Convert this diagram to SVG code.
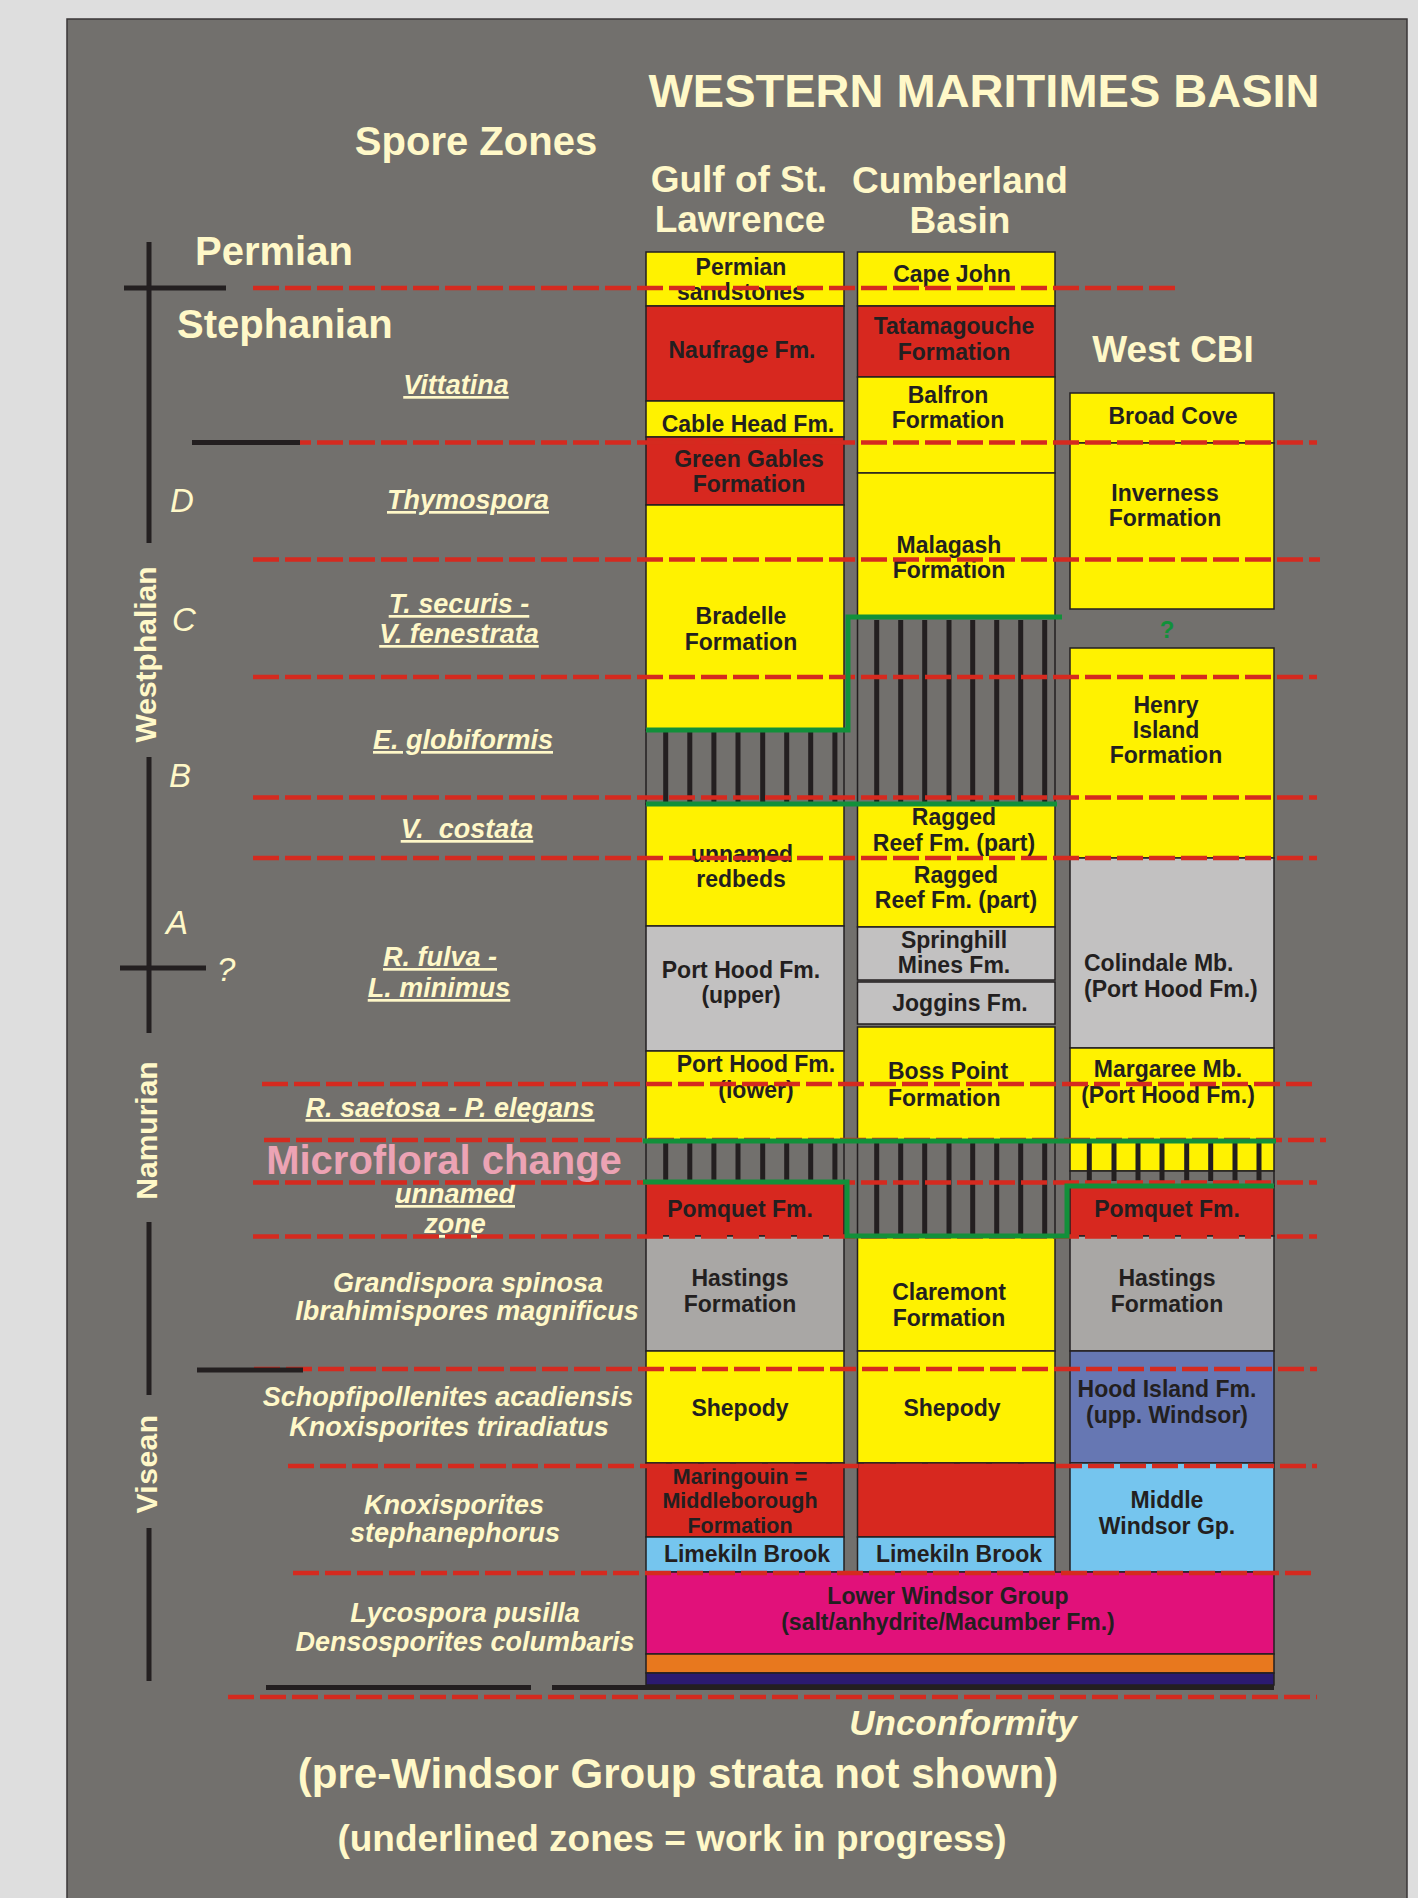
<svg xmlns="http://www.w3.org/2000/svg" width="1418" height="1898" viewBox="0 0 1418 1898">
<defs>
<style>
.bx{stroke:#231f20;stroke-width:1.5}
.y{fill:#fff200}.r{fill:#d7281f}.g1{fill:#c2c1c1}.g2{fill:#a9a7a5}.lb{fill:#75c5ee}.hi{fill:#6677b3}.mg{fill:#e1117a}.or{fill:#e8781e}.nv{fill:#2b1a70}.hb{fill:#72706d}
.bar{fill:#231f20}
.ft{font-family:"Liberation Sans",Arial,sans-serif;font-weight:bold;font-size:23px;fill:#231f20;text-anchor:middle}
.fts{font-family:"Liberation Sans",Arial,sans-serif;font-weight:bold;font-size:21.5px;fill:#231f20;text-anchor:middle}
.ftl{font-family:"Liberation Sans",Arial,sans-serif;font-weight:bold;font-size:23px;fill:#231f20;text-anchor:start}
.zn{font-family:"Liberation Sans",Arial,sans-serif;font-weight:bold;font-style:italic;font-size:27px;fill:#fff8c8;text-anchor:middle}
.u{text-decoration:underline}
.hd{font-family:"Liberation Sans",Arial,sans-serif;font-weight:bold;fill:#fff8c8;text-anchor:middle}
.hdl{font-family:"Liberation Sans",Arial,sans-serif;font-weight:bold;fill:#fff8c8}
.let{font-family:"Liberation Sans",Arial,sans-serif;font-style:italic;font-size:33px;fill:#fff8c8}
.dash{stroke:#d52a1f;stroke-width:4.5;stroke-dasharray:26 6;fill:none}
.grn{stroke:#12903a;stroke-width:5;fill:none}
.ax{stroke:#231f20;stroke-width:5;fill:none}
</style>
</defs>
<rect x="0" y="0" width="1418" height="1898" fill="#dedede"/>
<rect x="67" y="19" width="1340" height="1895" fill="#72706d" stroke="#3a3637" stroke-width="1.5"/>

<g id="headers">
<text class="hd" x="984" y="107" font-size="47">WESTERN MARITIMES BASIN</text>
<text class="hd" x="476" y="155" font-size="40">Spore Zones</text>
<text class="hd" x="739" y="192" font-size="37">Gulf of St.</text>
<text class="hd" x="740" y="232" font-size="37">Lawrence</text>
<text class="hd" x="960" y="193" font-size="37">Cumberland</text>
<text class="hd" x="960" y="233" font-size="37">Basin</text>
<text class="hd" x="1173" y="362" font-size="37">West CBI</text>
</g>

<g id="periods">
<text class="hdl" x="195" y="265" font-size="40">Permian</text>
<text class="hdl" x="177" y="338" font-size="40">Stephanian</text>
<text class="hd" font-size="30" transform="translate(156,654.5) rotate(-90)">Westphalian</text>
<text class="hd" font-size="30" transform="translate(157,1130.5) rotate(-90)">Namurian</text>
<text class="hd" font-size="30" letter-spacing="0.5" transform="translate(157,1464) rotate(-90)">Visean</text>
<text class="let" x="170" y="512">D</text>
<text class="let" x="172" y="631">C</text>
<text class="let" x="169" y="787">B</text>
<text class="let" x="166" y="934">A</text>
<text class="let" x="217" y="981">?</text>
</g>

<g id="spore-zones">
<text class="zn u" x="456" y="394">Vittatina</text>
<text class="zn u" x="468" y="509">Thymospora</text>
<text class="zn u" x="459" y="613">T. securis -</text>
<text class="zn u" x="459" y="643">V. fenestrata</text>
<text class="zn u" x="463" y="749">E. globiformis</text>
<text class="zn u" x="467" y="838" xml:space="preserve">V.  costata</text>
<text class="zn u" x="440" y="966">R. fulva -</text>
<text class="zn u" x="439" y="997">L. minimus</text>
<text class="zn u" x="450" y="1117">R. saetosa - P. elegans</text>
<text class="zn u" x="455" y="1203">unnamed</text>
<text class="zn u" x="455" y="1233">zone</text>
<text class="zn" x="468" y="1292">Grandispora spinosa</text>
<text class="zn" x="467" y="1320">Ibrahimispores magnificus</text>
<text class="zn" x="448" y="1406">Schopfipollenites acadiensis</text>
<text class="zn" x="449" y="1436">Knoxisporites triradiatus</text>
<text class="zn" x="454" y="1514">Knoxisporites</text>
<text class="zn" x="455" y="1542">stephanephorus</text>
<text class="zn" x="465" y="1622">Lycospora pusilla</text>
<text class="zn" x="465" y="1651">Densosporites columbaris</text>
</g>

<g id="gulf-column">
<g id="g-permian"><rect class="bx y" x="646" y="252" width="198" height="54"/><text class="ft" x="741" y="275">Permian</text><text class="ft" x="741" y="300">sandstones</text></g>
<g id="g-naufrage"><rect class="bx r" x="646" y="306" width="198" height="95"/><text class="ft" x="742" y="358">Naufrage Fm.</text></g>
<g id="g-cablehead"><rect class="bx y" x="646" y="401" width="198" height="36"/><text class="ft" x="748" y="432">Cable Head Fm.</text></g>
<g id="g-greengables"><rect class="bx r" x="646" y="437" width="198" height="68"/><text class="ft" x="749" y="467">Green Gables</text><text class="ft" x="749" y="492">Formation</text></g>
<g id="g-bradelle"><rect class="bx y" x="646" y="505" width="198" height="225"/><text class="ft" x="741" y="624">Bradelle</text><text class="ft" x="741" y="650">Formation</text></g>
<g id="g-hatch1"><rect class="bx hb" x="646" y="730" width="198" height="74"/>
<rect class="bar" x="663.2" y="732" width="5" height="70"/><rect class="bar" x="687.3" y="732" width="5" height="70"/><rect class="bar" x="711.4" y="732" width="5" height="70"/><rect class="bar" x="735.5" y="732" width="5" height="70"/><rect class="bar" x="760.2" y="732" width="5" height="70"/><rect class="bar" x="784.2" y="732" width="5" height="70"/><rect class="bar" x="808.2" y="732" width="5" height="70"/><rect class="bar" x="832.4" y="732" width="5" height="70"/></g>
<g id="g-redbeds"><rect class="bx y" x="646" y="804" width="198" height="122"/><text class="ft" x="742" y="862">unnamed</text><text class="ft" x="741" y="887">redbeds</text></g>
<g id="g-porthood-upper"><rect class="bx g1" x="646" y="926" width="198" height="125"/><text class="ft" x="741" y="978">Port Hood Fm.</text><text class="ft" x="741" y="1003">(upper)</text></g>
<g id="g-porthood-lower"><rect class="bx y" x="646" y="1051" width="198" height="90"/><text class="ft" x="756" y="1072">Port Hood Fm.</text><text class="ft" x="756" y="1098">(lower)</text></g>
<g id="g-hatch2"><rect class="bx hb" x="646" y="1141" width="198" height="41"/>
<rect class="bar" x="663.2" y="1143" width="5" height="38"/><rect class="bar" x="687.3" y="1143" width="5" height="38"/><rect class="bar" x="711.4" y="1143" width="5" height="38"/><rect class="bar" x="735.5" y="1143" width="5" height="38"/><rect class="bar" x="760.2" y="1143" width="5" height="38"/><rect class="bar" x="784.2" y="1143" width="5" height="38"/><rect class="bar" x="808.2" y="1143" width="5" height="38"/><rect class="bar" x="832.4" y="1143" width="5" height="38"/></g>
<g id="g-pomquet"><rect class="bx r" x="646" y="1182" width="198" height="54"/><text class="ft" x="740" y="1217">Pomquet Fm.</text></g>
<g id="g-hastings"><rect class="bx g2" x="646" y="1236" width="198" height="115"/><text class="ft" x="740" y="1286">Hastings</text><text class="ft" x="740" y="1312">Formation</text></g>
<g id="g-shepody"><rect class="bx y" x="646" y="1351" width="198" height="112"/><text class="ft" x="740" y="1416">Shepody</text></g>
<g id="g-maringouin"><rect class="bx r" x="646" y="1463" width="198" height="74"/><text class="fts" x="740" y="1484">Maringouin =</text><text class="fts" x="740" y="1508">Middleborough</text><text class="fts" x="740" y="1533">Formation</text></g>
<g id="g-limekiln"><rect class="bx lb" x="646" y="1537" width="198" height="35"/><text class="ft" x="747" y="1562">Limekiln Brook</text></g>
</g>

<g id="cumberland-column">
<g id="c-capejohn"><rect class="bx y" x="857.5" y="252" width="197.5" height="54"/><text class="ft" x="952" y="282">Cape John</text></g>
<g id="c-tatamagouche"><rect class="bx r" x="857.5" y="306" width="197.5" height="71"/><text class="ft" x="954" y="334">Tatamagouche</text><text class="ft" x="954" y="360">Formation</text></g>
<g id="c-balfron"><rect class="bx y" x="857.5" y="377" width="197.5" height="96"/><text class="ft" x="948" y="403">Balfron</text><text class="ft" x="948" y="428">Formation</text></g>
<g id="c-malagash"><rect class="bx y" x="857.5" y="473" width="197.5" height="144"/><text class="ft" x="949" y="553">Malagash</text><text class="ft" x="949" y="578">Formation</text></g>
<g id="c-hatch1"><rect class="bx hb" x="857.5" y="617" width="197.5" height="187"/>
<rect class="bar" x="874.2" y="620" width="5" height="182"/><rect class="bar" x="898.2" y="620" width="5" height="182"/><rect class="bar" x="922.2" y="620" width="5" height="182"/><rect class="bar" x="946.5" y="620" width="5" height="182"/><rect class="bar" x="970.2" y="620" width="5" height="182"/><rect class="bar" x="994.2" y="620" width="5" height="182"/><rect class="bar" x="1018.2" y="620" width="5" height="182"/><rect class="bar" x="1042.2" y="620" width="5" height="182"/></g>
<g id="c-raggedreef"><rect class="bx y" x="857.5" y="804" width="197.5" height="123"/><text class="ft" x="954" y="825">Ragged</text><text class="ft" x="954" y="851">Reef Fm. (part)</text><text class="ft" x="956" y="883">Ragged</text><text class="ft" x="956" y="908">Reef Fm. (part)</text></g>
<g id="c-springhill"><rect class="bx g1" x="857.5" y="927" width="197.5" height="53"/><text class="ft" x="954" y="948">Springhill</text><text class="ft" x="954" y="973">Mines Fm.</text></g>
<g id="c-joggins"><rect class="bx g1" x="857.5" y="982" width="197.5" height="42"/><text class="ft" x="960" y="1011">Joggins Fm.</text></g>
<g id="c-bosspoint"><rect class="bx y" x="857.5" y="1027" width="197.5" height="114"/><text class="ftl" x="888" y="1079">Boss Point</text><text class="ftl" x="888" y="1106">Formation</text></g>
<g id="c-hatch2"><rect class="bx hb" x="857.5" y="1141" width="197.5" height="95"/>
<rect class="bar" x="874.2" y="1143" width="5" height="91"/><rect class="bar" x="898.2" y="1143" width="5" height="91"/><rect class="bar" x="922.2" y="1143" width="5" height="91"/><rect class="bar" x="946.5" y="1143" width="5" height="91"/><rect class="bar" x="970.2" y="1143" width="5" height="91"/><rect class="bar" x="994.2" y="1143" width="5" height="91"/><rect class="bar" x="1018.2" y="1143" width="5" height="91"/><rect class="bar" x="1042.2" y="1143" width="5" height="91"/></g>
<g id="c-claremont"><rect class="bx y" x="857.5" y="1236" width="197.5" height="115"/><text class="ft" x="949" y="1300">Claremont</text><text class="ft" x="949" y="1326">Formation</text></g>
<g id="c-shepody"><rect class="bx y" x="857.5" y="1351" width="197.5" height="112"/><text class="ft" x="952" y="1416">Shepody</text></g>
<g id="c-red"><rect class="bx r" x="857.5" y="1463" width="197.5" height="74"/></g>
<g id="c-limekiln"><rect class="bx lb" x="857.5" y="1537" width="197.5" height="35"/><text class="ft" x="959" y="1562">Limekiln Brook</text></g>
</g>

<g id="westcbi-column">
<g id="w-broadcove"><rect class="bx y" x="1070" y="393" width="204" height="50"/><text class="ft" x="1173" y="424">Broad Cove</text></g>
<g id="w-inverness"><rect class="bx y" x="1070" y="443" width="204" height="166"/><text class="ft" x="1165" y="501">Inverness</text><text class="ft" x="1165" y="526">Formation</text></g>
<g id="w-question"><text x="1167" y="638" font-family="Liberation Sans, Arial, sans-serif" font-weight="bold" font-size="24" fill="#12903a" text-anchor="middle">?</text></g>
<g id="w-henryisland"><rect class="bx y" x="1070" y="648" width="204" height="210"/><text class="ft" x="1166" y="713">Henry</text><text class="ft" x="1166" y="738">Island</text><text class="ft" x="1166" y="763">Formation</text></g>
<g id="w-colindale"><rect class="bx g1" x="1070" y="858" width="204" height="190"/><text class="ftl" x="1084" y="971">Colindale Mb.</text><text class="ftl" x="1084" y="997">(Port Hood Fm.)</text></g>
<g id="w-margaree"><rect class="bx y" x="1070" y="1048" width="204" height="123"/><rect class="bx hb" x="1070" y="1171" width="204" height="15"/><text class="ft" x="1168" y="1077">Margaree Mb.</text><text class="ft" x="1168" y="1103">(Port Hood Fm.)</text>
<rect class="bar" x="1086.8" y="1143" width="5" height="38"/><rect class="bar" x="1111.5" y="1143" width="5" height="38"/><rect class="bar" x="1135.5" y="1143" width="5" height="38"/><rect class="bar" x="1159.5" y="1143" width="5" height="38"/><rect class="bar" x="1184.2" y="1143" width="5" height="38"/><rect class="bar" x="1208.2" y="1143" width="5" height="38"/><rect class="bar" x="1232.5" y="1143" width="5" height="38"/><rect class="bar" x="1256.5" y="1143" width="5" height="38"/></g>
<g id="w-pomquet"><rect class="bx r" x="1070" y="1186" width="204" height="50"/><text class="ft" x="1167" y="1217">Pomquet Fm.</text></g>
<g id="w-hastings"><rect class="bx g2" x="1070" y="1236" width="204" height="115"/><text class="ft" x="1167" y="1286">Hastings</text><text class="ft" x="1167" y="1312">Formation</text></g>
<g id="w-hoodisland"><rect class="bx hi" x="1070" y="1351" width="204" height="112"/><text class="ft" x="1167" y="1397">Hood Island Fm.</text><text class="ft" x="1167" y="1423">(upp. Windsor)</text></g>
<g id="w-middlewindsor"><rect class="bx lb" x="1070" y="1463" width="204" height="109"/><text class="ft" x="1167" y="1508">Middle</text><text class="ft" x="1167" y="1534">Windsor Gp.</text></g>
</g>

<g id="lower-windsor">
<rect class="bx mg" x="646" y="1572" width="628" height="82"/>
<rect class="bx or" x="646" y="1654" width="628" height="19"/>
<rect class="bx nv" x="646" y="1673" width="628" height="12"/>
<text class="ft" x="948" y="1604">Lower Windsor Group</text>
<text class="ft" x="948" y="1630">(salt/anhydrite/Macumber Fm.)</text>
</g>

<g id="connectors">
<g id="zone-boundaries">
<line class="dash" x1="253" y1="288" x2="1175" y2="288"/>
<line class="dash" x1="253" y1="442.5" x2="1317" y2="442.5"/>
<line class="dash" x1="253" y1="559.5" x2="1320" y2="559.5"/>
<line class="dash" x1="253" y1="677" x2="1317" y2="677"/>
<line class="dash" x1="253" y1="797.5" x2="1317" y2="797.5"/>
<line class="dash" x1="253" y1="858" x2="1317" y2="858"/>
<line class="dash" x1="262" y1="1084" x2="1317" y2="1084"/>
<line class="dash" x1="264" y1="1140" x2="1326" y2="1140"/>
<line class="dash" x1="253" y1="1182.5" x2="1317" y2="1182.5"/>
<line class="dash" x1="253" y1="1236.5" x2="1317" y2="1236.5"/>
<line class="dash" x1="254" y1="1369" x2="1317" y2="1369"/>
<line class="dash" x1="288" y1="1466" x2="1317" y2="1466"/>
<line class="dash" x1="293" y1="1573" x2="1317" y2="1573"/>
<line class="dash" x1="228" y1="1697" x2="1317" y2="1697"/>
</g>
<g id="hiatus-lines">
<path class="grn" d="M646,730 H848 V617 H1062"/>
<path class="grn" d="M646,804 H1057"/>
<path class="grn" d="M643,1141 H1276"/>
<path class="grn" d="M643,1182 H847 V1236 H1067 V1186 H1274"/>
</g>
<g id="time-axis">
<line class="ax" x1="149" y1="242" x2="149" y2="543"/>
<line class="ax" x1="149" y1="757" x2="149" y2="1033"/>
<line class="ax" x1="149" y1="1222" x2="149" y2="1395"/>
<line class="ax" x1="149" y1="1528" x2="149" y2="1681"/>
<line class="ax" x1="124" y1="288" x2="226" y2="288"/>
<line class="ax" x1="192" y1="442.5" x2="300" y2="442.5"/>
<line class="ax" x1="120" y1="968" x2="206" y2="968"/>
<line class="ax" x1="197" y1="1370" x2="303" y2="1370"/>
<line class="ax" x1="266" y1="1687.5" x2="531" y2="1687.5"/>
<line class="ax" x1="552" y1="1687.5" x2="1274" y2="1687.5"/>
</g>
</g>

<g id="notes">
<text x="444" y="1174" font-family="Liberation Sans, Arial, sans-serif" font-weight="bold" font-size="40" fill="#eca3b4" text-anchor="middle">Microfloral change</text>
<text class="hd" x="963" y="1735" font-size="35" font-style="italic">Unconformity</text>
<text class="hd" x="678" y="1788" font-size="42">(pre-Windsor Group strata not shown)</text>
<text class="hd" x="672" y="1851" font-size="37">(underlined zones = work in progress)</text>
</g>
</svg>
